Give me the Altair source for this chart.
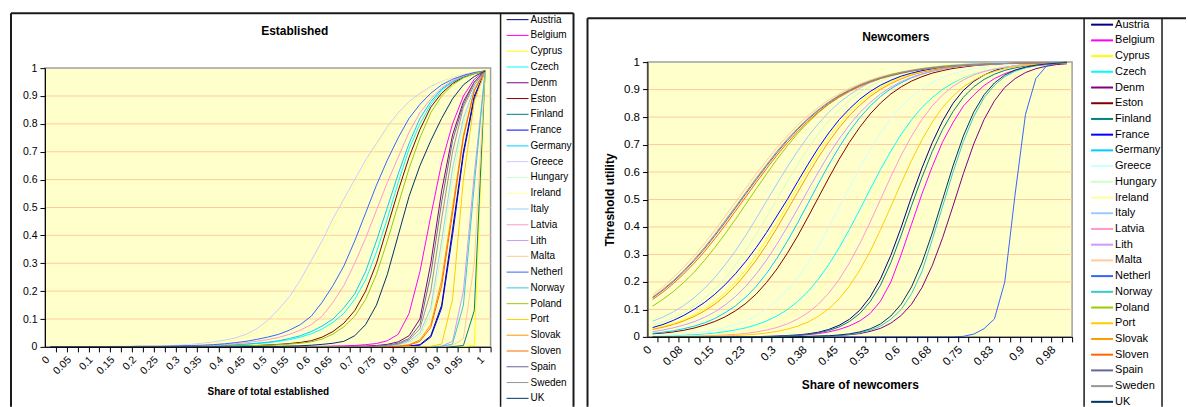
import altair as alt
import pandas as pd

FONT = "Liberation Sans"

COUNTRIES = ["Austria", "Belgium", "Cyprus", "Czech", "Denm", "Eston", "Finland",
             "France", "Germany", "Greece", "Hungary", "Ireland", "Italy", "Latvia",
             "Lith", "Malta", "Netherl", "Norway", "Poland", "Port", "Slovak",
             "Sloven", "Spain", "Sweden", "UK"]

EST_COLORS = ["#000080", "#FF00FF", "#FFFF00", "#00FFFF", "#800080", "#800000", "#008080",
              "#0000FF", "#00CCFF", "#CCCCFF", "#CCFFCC", "#FFFF99", "#99CCFF", "#FF99CC",
              "#CC99FF", "#FFCC99", "#3366FF", "#33CCCC", "#99CC00", "#FFCC00", "#FF9900",
              "#FF6600", "#666699", "#969696", "#003366"]
NEW_COLORS = ["#000080", "#FF00FF", "#FFFF00", "#00FFFF", "#800080", "#800000", "#008080",
              "#0000FF", "#00CCFF", "#CCFFFF", "#CCFFCC", "#FFFF99", "#99CCFF", "#FF99CC",
              "#CC99FF", "#FFCC99", "#3366FF", "#33CCCC", "#99CC00", "#FFCC00", "#FF9900",
              "#FF6600", "#666699", "#969696", "#003366"]

# category positions (0 .. 1 in steps of 0.025)
X_CATS = [0.0, 0.025, 0.05, 0.075, 0.1, 0.125, 0.15, 0.175, 0.2, 0.225,
          0.25, 0.275, 0.3, 0.325, 0.35, 0.375, 0.4, 0.425, 0.45, 0.475,
          0.5, 0.525, 0.55, 0.575, 0.6, 0.625, 0.65, 0.675, 0.7, 0.725,
          0.75, 0.775, 0.8, 0.825, 0.85, 0.875, 0.9, 0.925, 0.95, 0.975, 1.0]
EST_TICK_LABELS = ["0", "0.05", "0.1", "0.15", "0.2", "0.25", "0.3", "0.35", "0.4", "0.45",
                   "0.5", "0.55", "0.6", "0.65", "0.7", "0.75", "0.8", "0.85", "0.9", "0.95", "1"]
NEW_TICK_LABELS = ["0", "0.08", "0.15", "0.23", "0.3", "0.38", "0.45", "0.53", "0.6",
                   "0.68", "0.75", "0.83", "0.9", "0.98"]
Y_TICKS = [0, 0.1, 0.2, 0.3, 0.4, 0.5, 0.6, 0.7, 0.8, 0.9, 1]
GRID_VALUES = [0.1, 0.2, 0.3, 0.4, 0.5, 0.6, 0.7, 0.8, 0.9]

# ---------------- Established (share of total established) ----------------
est_Austria = [0, 0, 0, 0, 0, 0, 0, 0, 0, 0,
               0, 0, 0, 0, 0, 0, 0, 0, 0, 0,
               0, 0, 0, 0, 0, 0, 0, 0, 0, 0,
               0, 0, 0, 0.003, 0.008, 0.04, 0.15, 0.42, 0.7, 0.9,
               0.99]
est_Belgium = [0, 0, 0, 0, 0, 0, 0, 0, 0, 0,
               0, 0, 0, 0, 0, 0, 0, 0, 0, 0,
               0, 0, 0.001, 0.001, 0.002, 0.002, 0.003, 0.004, 0.005, 0.008,
               0.012, 0.022, 0.045, 0.12, 0.27, 0.47, 0.66, 0.8, 0.9, 0.96,
               0.99]
est_Cyprus = [0, 0, 0, 0, 0, 0, 0, 0, 0, 0,
              0, 0, 0, 0, 0, 0, 0, 0, 0, 0,
              0, 0, 0, 0, 0, 0, 0, 0, 0, 0,
              0, 0, 0, 0, 0, 0, 0, 0, 0.001, 0.005,
              0.99]
est_Czech = [0, 0, 0, 0, 0, 0, 0, 0, 0.001, 0.001,
             0.001, 0.001, 0.002, 0.002, 0.003, 0.004, 0.005, 0.007, 0.009, 0.012,
             0.015, 0.02, 0.026, 0.035, 0.047, 0.064, 0.088, 0.12, 0.17, 0.24,
             0.34, 0.46, 0.59, 0.71, 0.8, 0.87, 0.92, 0.95, 0.968, 0.981,
             0.99]
est_Denm = [0, 0, 0, 0, 0, 0, 0, 0, 0, 0,
            0, 0, 0, 0, 0, 0, 0, 0, 0, 0,
            0, 0, 0, 0, 0, 0, 0, 0.001, 0.002, 0.003,
            0.005, 0.009, 0.018, 0.04, 0.1, 0.3, 0.56, 0.76, 0.88, 0.95,
            0.99]
est_Eston = [0, 0, 0, 0, 0, 0, 0, 0, 0, 0.001,
             0.001, 0.001, 0.001, 0.002, 0.002, 0.002, 0.003, 0.003, 0.004, 0.005,
             0.007, 0.009, 0.012, 0.016, 0.022, 0.035, 0.055, 0.085, 0.13, 0.2,
             0.3, 0.43, 0.56, 0.68, 0.78, 0.86, 0.91, 0.945, 0.967, 0.98,
             0.99]
est_Finland = [0, 0, 0, 0, 0, 0, 0, 0, 0, 0,
               0, 0, 0, 0, 0, 0, 0, 0, 0, 0,
               0, 0, 0, 0, 0, 0, 0, 0, 0, 0,
               0, 0, 0, 0, 0, 0, 0, 0.001, 0.005, 0.13,
               0.99]
est_France = [0, 0, 0, 0, 0, 0, 0, 0, 0, 0,
              0, 0, 0, 0, 0, 0, 0, 0, 0, 0,
              0, 0, 0, 0, 0, 0, 0, 0, 0, 0,
              0, 0, 0, 0.002, 0.006, 0.035, 0.14, 0.4, 0.69, 0.89,
              0.99]
est_Germany = [0, 0, 0, 0, 0, 0, 0, 0.001, 0.001, 0.001,
               0.001, 0.002, 0.002, 0.003, 0.004, 0.005, 0.006, 0.008, 0.01, 0.013,
               0.017, 0.022, 0.03, 0.04, 0.055, 0.075, 0.1, 0.14, 0.19, 0.27,
               0.38, 0.5, 0.62, 0.73, 0.82, 0.88, 0.925, 0.952, 0.97, 0.982,
               0.99]
est_Greece = [0, 0, 0, 0.001, 0.001, 0.001, 0.002, 0.002, 0.003, 0.003,
              0.004, 0.005, 0.006, 0.009, 0.013, 0.018, 0.024, 0.032, 0.045, 0.065,
              0.095, 0.135, 0.18, 0.24, 0.31, 0.38, 0.46, 0.53, 0.6, 0.67,
              0.73, 0.79, 0.84, 0.88, 0.91, 0.935, 0.952, 0.966, 0.977, 0.985,
              0.99]
est_Hungary = [0, 0, 0, 0, 0, 0, 0, 0, 0, 0,
               0, 0, 0, 0, 0, 0, 0, 0, 0, 0,
               0, 0, 0, 0, 0, 0, 0, 0, 0, 0,
               0, 0.003, 0.006, 0.015, 0.04, 0.12, 0.34, 0.6, 0.8, 0.92,
               0.99]
est_Ireland = [0, 0, 0, 0, 0.001, 0.001, 0.001, 0.002, 0.002, 0.003,
               0.003, 0.004, 0.005, 0.007, 0.01, 0.014, 0.019, 0.026, 0.036, 0.052,
               0.078, 0.112, 0.155, 0.21, 0.28, 0.35, 0.43, 0.51, 0.58, 0.65,
               0.72, 0.78, 0.83, 0.87, 0.905, 0.93, 0.95, 0.965, 0.976, 0.985,
               0.99]
est_Italy = [0, 0, 0, 0, 0, 0, 0, 0, 0, 0,
             0, 0, 0, 0, 0, 0, 0, 0, 0, 0,
             0, 0, 0, 0, 0, 0, 0, 0, 0, 0,
             0.002, 0.004, 0.008, 0.02, 0.05, 0.14, 0.38, 0.64, 0.82, 0.93,
             0.99]
est_Latvia = [0, 0, 0, 0, 0, 0, 0.001, 0.001, 0.001, 0.002,
              0.002, 0.002, 0.003, 0.004, 0.005, 0.006, 0.008, 0.011, 0.015, 0.02,
              0.026, 0.034, 0.045, 0.06, 0.08, 0.11, 0.16, 0.22, 0.3, 0.39,
              0.49, 0.59, 0.68, 0.77, 0.84, 0.89, 0.93, 0.955, 0.972, 0.983,
              0.99]
est_Lith = [0, 0, 0, 0, 0, 0, 0, 0, 0, 0,
            0, 0, 0, 0, 0, 0, 0, 0, 0, 0,
            0, 0, 0, 0, 0, 0, 0, 0, 0, 0,
            0, 0, 0, 0, 0, 0, 0.003, 0.02, 0.2, 0.62,
            0.99]
est_Malta = [0, 0, 0, 0, 0, 0, 0, 0, 0, 0,
             0, 0, 0, 0, 0, 0, 0, 0, 0, 0,
             0, 0, 0, 0, 0, 0, 0, 0, 0, 0,
             0, 0, 0, 0, 0, 0, 0, 0.005, 0.03, 0.3,
             0.99]
est_Netherl = [0, 0, 0, 0, 0, 0.001, 0.001, 0.001, 0.002, 0.002,
               0.002, 0.003, 0.004, 0.005, 0.006, 0.008, 0.011, 0.015, 0.02, 0.027,
               0.035, 0.045, 0.06, 0.08, 0.11, 0.16, 0.22, 0.29, 0.38, 0.48,
               0.58, 0.67, 0.75, 0.82, 0.87, 0.91, 0.94, 0.96, 0.974, 0.984,
               0.99]
est_Norway = [0, 0, 0, 0, 0, 0, 0, 0, 0, 0,
              0, 0, 0, 0, 0, 0, 0, 0, 0, 0,
              0, 0, 0, 0, 0, 0, 0, 0, 0, 0,
              0, 0, 0, 0, 0, 0, 0.002, 0.01, 0.15, 0.58,
              0.99]
est_Poland = [0, 0, 0, 0, 0, 0, 0, 0, 0, 0,
              0.001, 0.001, 0.001, 0.001, 0.002, 0.002, 0.002, 0.003, 0.004, 0.005,
              0.006, 0.008, 0.01, 0.013, 0.018, 0.028, 0.046, 0.072, 0.11, 0.17,
              0.26, 0.38, 0.51, 0.64, 0.75, 0.84, 0.9, 0.94, 0.965, 0.98,
              0.99]
est_Port = [0, 0, 0, 0, 0, 0, 0, 0, 0, 0,
            0, 0, 0, 0, 0, 0, 0, 0, 0, 0,
            0, 0, 0, 0, 0, 0, 0, 0, 0, 0,
            0, 0, 0, 0, 0, 0.002, 0.01, 0.17, 0.6, 0.88,
            0.99]
est_Slovak = [0, 0, 0, 0, 0, 0, 0, 0, 0, 0,
              0, 0, 0, 0, 0, 0, 0, 0, 0, 0,
              0, 0, 0, 0, 0, 0, 0, 0, 0, 0,
              0, 0, 0.003, 0.008, 0.025, 0.08, 0.24, 0.5, 0.76, 0.92,
              0.99]
est_Sloven = [0, 0, 0, 0, 0, 0, 0, 0, 0, 0,
              0, 0, 0, 0, 0, 0, 0, 0, 0, 0,
              0, 0, 0, 0, 0, 0, 0, 0, 0, 0,
              0, 0, 0.002, 0.006, 0.02, 0.07, 0.22, 0.48, 0.75, 0.92,
              0.99]
est_Spain = [0, 0, 0, 0, 0, 0, 0, 0, 0, 0,
             0, 0, 0, 0, 0, 0, 0, 0, 0, 0,
             0, 0, 0, 0, 0, 0, 0, 0, 0, 0,
             0.003, 0.006, 0.013, 0.03, 0.08, 0.26, 0.52, 0.74, 0.87, 0.95,
             0.99]
est_Sweden = [0, 0, 0, 0, 0, 0, 0, 0, 0, 0,
              0, 0, 0, 0, 0, 0, 0, 0, 0, 0,
              0, 0, 0, 0, 0, 0, 0, 0, 0, 0,
              0, 0.004, 0.01, 0.025, 0.065, 0.2, 0.46, 0.7, 0.86, 0.94,
              0.99]
est_UK = [0, 0, 0, 0, 0, 0, 0, 0, 0, 0,
          0, 0, 0, 0, 0, 0, 0, 0, 0.001, 0.001,
          0.002, 0.002, 0.003, 0.004, 0.006, 0.009, 0.013, 0.02, 0.04, 0.08,
          0.15, 0.26, 0.4, 0.54, 0.65, 0.74, 0.82, 0.89, 0.94, 0.97,
          0.99]

# ---------------- Newcomers (share of newcomers) ----------------
new_Austria = [0, 0, 0, 0, 0, 0, 0, 0, 0, 0.001,
               0.001, 0.002, 0.003, 0.005, 0.007, 0.011, 0.017, 0.027, 0.042, 0.064,
               0.097, 0.145, 0.211, 0.297, 0.399, 0.51, 0.614, 0.707, 0.786, 0.85,
               0.897, 0.93, 0.953, 0.969, 0.98, 0.987, 0.991, 0.994, 0.996, 0.997,
               0.998]
new_Belgium = [0, 0, 0, 0, 0, 0, 0, 0, 0, 0,
               0.001, 0.001, 0.002, 0.003, 0.005, 0.008, 0.012, 0.018, 0.027, 0.04,
               0.058, 0.085, 0.13, 0.2, 0.3, 0.41, 0.52, 0.62, 0.71, 0.78,
               0.84, 0.88, 0.915, 0.94, 0.958, 0.971, 0.98, 0.987, 0.991, 0.994,
               0.996]
new_Cyprus = [0.029, 0.038, 0.049, 0.062, 0.08, 0.101, 0.128, 0.16, 0.199, 0.244,
              0.296, 0.353, 0.415, 0.48, 0.546, 0.61, 0.671, 0.726, 0.775, 0.818,
              0.854, 0.884, 0.908, 0.928, 0.944, 0.956, 0.966, 0.974, 0.979, 0.984,
              0.988, 0.991, 0.993, 0.994, 0.995, 0.996, 0.997, 0.998, 0.998, 0.999,
              0.999]
new_Czech = [0.002, 0.003, 0.004, 0.006, 0.008, 0.01, 0.014, 0.019, 0.025, 0.033,
             0.044, 0.058, 0.076, 0.099, 0.129, 0.165, 0.21, 0.263, 0.324, 0.391,
             0.463, 0.537, 0.609, 0.676, 0.737, 0.79, 0.835, 0.871, 0.901, 0.924,
             0.942, 0.956, 0.967, 0.975, 0.981, 0.986, 0.99, 0.992, 0.994, 0.996,
             0.997]
new_Denm = [0, 0, 0, 0, 0, 0, 0, 0, 0, 0,
            0, 0, 0, 0, 0.001, 0.001, 0.002, 0.003, 0.005, 0.008,
            0.012, 0.02, 0.031, 0.05, 0.078, 0.119, 0.179, 0.26, 0.361, 0.476,
            0.594, 0.702, 0.791, 0.859, 0.908, 0.94, 0.962, 0.976, 0.985, 0.991,
            0.994]
new_Eston = [0.011, 0.014, 0.018, 0.024, 0.032, 0.043, 0.056, 0.073, 0.095, 0.122,
             0.156, 0.198, 0.247, 0.304, 0.367, 0.436, 0.507, 0.578, 0.646, 0.708,
             0.763, 0.811, 0.851, 0.884, 0.91, 0.931, 0.947, 0.96, 0.969, 0.977,
             0.982, 0.987, 0.99, 0.992, 0.994, 0.995, 0.996, 0.997, 0.998, 0.998,
             0.999]
new_Finland = [0, 0, 0, 0, 0, 0, 0, 0, 0, 0,
               0.001, 0.001, 0.002, 0.004, 0.006, 0.009, 0.015, 0.023, 0.036, 0.056,
               0.085, 0.128, 0.188, 0.27, 0.37, 0.478, 0.58, 0.675, 0.755, 0.82,
               0.872, 0.91, 0.937, 0.956, 0.97, 0.979, 0.986, 0.99, 0.993, 0.995,
               0.997]
new_France = [0.034, 0.045, 0.06, 0.078, 0.1, 0.125, 0.155, 0.19, 0.23, 0.275,
              0.325, 0.38, 0.44, 0.5, 0.565, 0.628, 0.688, 0.742, 0.79, 0.83,
              0.865, 0.893, 0.916, 0.934, 0.949, 0.96, 0.969, 0.976, 0.982, 0.986,
              0.99, 0.992, 0.994, 0.995, 0.996, 0.997, 0.998, 0.998, 0.999, 0.999,
              0.999]
new_Germany = [0.013, 0.017, 0.022, 0.03, 0.039, 0.051, 0.067, 0.088, 0.113, 0.145,
               0.184, 0.231, 0.286, 0.348, 0.415, 0.486, 0.557, 0.626, 0.69, 0.748,
               0.798, 0.84, 0.875, 0.903, 0.925, 0.943, 0.956, 0.967, 0.975, 0.981,
               0.986, 0.989, 0.992, 0.994, 0.995, 0.996, 0.997, 0.998, 0.998, 0.999,
               0.999]
new_Greece = [0.005, 0.006, 0.008, 0.011, 0.014, 0.019, 0.025, 0.034, 0.045, 0.059,
              0.078, 0.102, 0.132, 0.17, 0.215, 0.269, 0.33, 0.398, 0.471, 0.544,
              0.616, 0.682, 0.742, 0.795, 0.838, 0.874, 0.903, 0.926, 0.944, 0.958,
              0.968, 0.976, 0.982, 0.987, 0.99, 0.993, 0.994, 0.996, 0.997, 0.998,
              0.998]
new_Hungary = [0.042, 0.054, 0.069, 0.088, 0.111, 0.14, 0.174, 0.214, 0.261, 0.315,
               0.373, 0.435, 0.5, 0.565, 0.627, 0.685, 0.739, 0.786, 0.826, 0.86,
               0.889, 0.912, 0.931, 0.946, 0.958, 0.967, 0.974, 0.98, 0.985, 0.988,
               0.991, 0.993, 0.994, 0.996, 0.997, 0.997, 0.998, 0.998, 0.999, 0.999,
               0.999]
new_Ireland = [0.001, 0.002, 0.003, 0.003, 0.005, 0.006, 0.009, 0.012, 0.016, 0.022,
               0.029, 0.04, 0.053, 0.072, 0.095, 0.126, 0.165, 0.212, 0.269, 0.335,
               0.407, 0.484, 0.562, 0.637, 0.706, 0.766, 0.818, 0.86, 0.893, 0.92,
               0.94, 0.955, 0.967, 0.976, 0.982, 0.987, 0.99, 0.993, 0.995, 0.996,
               0.997]
new_Italy = [0.057, 0.072, 0.091, 0.114, 0.142, 0.176, 0.216, 0.262, 0.313, 0.37,
             0.431, 0.494, 0.557, 0.618, 0.676, 0.729, 0.776, 0.817, 0.852, 0.881,
             0.905, 0.925, 0.94, 0.953, 0.963, 0.971, 0.977, 0.982, 0.986, 0.989,
             0.992, 0.994, 0.995, 0.996, 0.997, 0.997, 0.998, 0.998, 0.999, 0.999,
             0.999]
new_Latvia = [0.001, 0.001, 0.001, 0.002, 0.003, 0.004, 0.005, 0.007, 0.009, 0.013,
              0.018, 0.025, 0.034, 0.047, 0.065, 0.088, 0.119, 0.159, 0.209, 0.269,
              0.339, 0.417, 0.5, 0.583, 0.661, 0.731, 0.791, 0.841, 0.881, 0.912,
              0.935, 0.953, 0.966, 0.975, 0.982, 0.987, 0.991, 0.993, 0.995, 0.996,
              0.997]
new_Lith = [0.019, 0.025, 0.033, 0.043, 0.055, 0.071, 0.091, 0.116, 0.147, 0.184,
            0.229, 0.28, 0.337, 0.4, 0.466, 0.534, 0.6, 0.663, 0.72, 0.771,
            0.816, 0.853, 0.884, 0.909, 0.929, 0.945, 0.957, 0.967, 0.975, 0.981,
            0.985, 0.989, 0.991, 0.993, 0.995, 0.996, 0.997, 0.997, 0.998, 0.998,
            0.999]
new_Malta = [0.153, 0.182, 0.216, 0.253, 0.294, 0.339, 0.388, 0.438, 0.49, 0.542,
             0.593, 0.642, 0.688, 0.731, 0.77, 0.805, 0.835, 0.862, 0.885, 0.905,
             0.921, 0.935, 0.947, 0.956, 0.964, 0.971, 0.976, 0.98, 0.984, 0.987,
             0.989, 0.991, 0.993, 0.994, 0.995, 0.996, 0.997, 0.998, 0.998, 0.999,
             0.999]
new_Netherl = [0, 0, 0, 0, 0, 0, 0, 0, 0, 0,
               0, 0, 0, 0, 0, 0, 0, 0, 0, 0,
               0, 0, 0, 0, 0, 0, 0, 0, 0, 0,
               0.002, 0.01, 0.03, 0.065, 0.2, 0.52, 0.81, 0.94, 0.985, 0.998,
               1.0]
new_Norway = [0, 0, 0, 0, 0, 0, 0, 0, 0, 0,
              0, 0, 0, 0, 0, 0.001, 0.002, 0.003, 0.006, 0.009,
              0.015, 0.024, 0.039, 0.064, 0.1, 0.157, 0.237, 0.354, 0.475, 0.599,
              0.711, 0.802, 0.87, 0.916, 0.947, 0.967, 0.979, 0.987, 0.992, 0.995,
              0.997]
new_Poland = [0.112, 0.137, 0.165, 0.198, 0.235, 0.278, 0.325, 0.375, 0.428, 0.483,
              0.539, 0.593, 0.646, 0.695, 0.74, 0.78, 0.816, 0.847, 0.874, 0.896,
              0.915, 0.931, 0.944, 0.955, 0.963, 0.97, 0.976, 0.981, 0.985, 0.988,
              0.99, 0.992, 0.993, 0.994, 0.995, 0.996, 0.997, 0.997, 0.998, 0.998,
              0.999]
new_Port = [0, 0, 0.001, 0.001, 0.001, 0.002, 0.003, 0.004, 0.005, 0.007,
            0.01, 0.014, 0.02, 0.028, 0.039, 0.054, 0.075, 0.102, 0.138, 0.185,
            0.243, 0.311, 0.39, 0.474, 0.56, 0.642, 0.717, 0.782, 0.835, 0.877,
            0.91, 0.934, 0.953, 0.966, 0.976, 0.983, 0.988, 0.991, 0.994, 0.995,
            0.997]
new_Slovak = [0.027, 0.035, 0.045, 0.058, 0.074, 0.094, 0.119, 0.15, 0.186, 0.23,
              0.279, 0.335, 0.396, 0.461, 0.526, 0.591, 0.653, 0.71, 0.761, 0.806,
              0.843, 0.875, 0.901, 0.922, 0.939, 0.953, 0.963, 0.971, 0.978, 0.983,
              0.987, 0.99, 0.992, 0.994, 0.995, 0.996, 0.997, 0.997, 0.998, 0.998,
              0.999]
new_Sloven = [0.136, 0.163, 0.194, 0.229, 0.268, 0.31, 0.357, 0.406, 0.458, 0.51,
              0.562, 0.612, 0.661, 0.706, 0.747, 0.785, 0.818, 0.847, 0.872, 0.893,
              0.911, 0.927, 0.94, 0.95, 0.959, 0.967, 0.973, 0.978, 0.982, 0.985,
              0.988, 0.99, 0.992, 0.993, 0.995, 0.996, 0.996, 0.997, 0.998, 0.998,
              0.999]
new_Spain = [0.142, 0.17, 0.201, 0.237, 0.277, 0.32, 0.368, 0.417, 0.469, 0.521,
             0.572, 0.622, 0.67, 0.715, 0.755, 0.792, 0.824, 0.852, 0.877, 0.897,
             0.915, 0.93, 0.942, 0.952, 0.961, 0.968, 0.974, 0.979, 0.983, 0.986,
             0.988, 0.99, 0.992, 0.994, 0.995, 0.996, 0.997, 0.997, 0.998, 0.998,
             0.999]
new_Sweden = [0.145, 0.173, 0.205, 0.241, 0.281, 0.325, 0.373, 0.423, 0.474, 0.526,
              0.578, 0.627, 0.675, 0.719, 0.759, 0.795, 0.827, 0.855, 0.879, 0.899,
              0.917, 0.931, 0.943, 0.953, 0.962, 0.969, 0.975, 0.979, 0.983, 0.986,
              0.989, 0.991, 0.993, 0.994, 0.995, 0.996, 0.997, 0.997, 0.998, 0.998,
              0.999]
new_UK = [0, 0, 0, 0, 0, 0, 0, 0, 0, 0,
          0, 0, 0, 0, 0.001, 0.002, 0.003, 0.004, 0.007, 0.011,
          0.018, 0.029, 0.047, 0.076, 0.119, 0.182, 0.269, 0.378, 0.5, 0.622,
          0.731, 0.818, 0.881, 0.924, 0.953, 0.971, 0.982, 0.989, 0.993, 0.996,
          0.998]

EST_SERIES = [est_Austria, est_Belgium, est_Cyprus, est_Czech, est_Denm, est_Eston,
              est_Finland, est_France, est_Germany, est_Greece, est_Hungary, est_Ireland,
              est_Italy, est_Latvia, est_Lith, est_Malta, est_Netherl, est_Norway,
              est_Poland, est_Port, est_Slovak, est_Sloven, est_Spain, est_Sweden, est_UK]
NEW_SERIES = [new_Austria, new_Belgium, new_Cyprus, new_Czech, new_Denm, new_Eston,
              new_Finland, new_France, new_Germany, new_Greece, new_Hungary, new_Ireland,
              new_Italy, new_Latvia, new_Lith, new_Malta, new_Netherl, new_Norway,
              new_Poland, new_Port, new_Slovak, new_Sloven, new_Spain, new_Sweden, new_UK]


def build_df(series):
    rows = []
    for k, (name, vals) in enumerate(zip(COUNTRIES, series)):
        assert len(vals) == len(X_CATS), name
        for x, v in zip(X_CATS, vals):
            rows.append({"country": name, "x": x, "v": v, "k": k})
    return pd.DataFrame(rows)


LEGEND_DF = pd.DataFrame({"country": COUNTRIES, "k": list(range(len(COUNTRIES)))})
GRID_DF = pd.DataFrame({"g": GRID_VALUES})


def one():
    return pd.DataFrame({"a": [0]})


def hline(x1, x2, y, color, sw):
    return alt.Chart(one()).mark_rule(color=color, strokeWidth=sw).encode(
        x=alt.value(x1), x2=alt.value(x2), y=alt.value(y))


def vline(x, y1, y2, color, sw):
    return alt.Chart(one()).mark_rule(color=color, strokeWidth=sw).encode(
        x=alt.value(x), y=alt.value(y1), y2=alt.value(y2))


def panel(series, colors, tick_labels, label_step, width, height, y_top, y_bottom,
          title, title_xy, xtitle, xtitle_y, ytitle, frame_lines, legend_x,
          legend_y, legend_sw, tick_fs, title_fs, legend_fs):
    n = len(X_CATS)
    cat_w = width / n
    half = 0.5 / (n - 1)
    xscale = alt.Scale(domain=[X_CATS[0] - half, X_CATS[-1] + half], nice=False, zero=False)
    yscale = alt.Scale(domain=[0, 1], range=[y_bottom, y_top], nice=False, zero=False)
    labs = [""] * n
    for i, t in enumerate(tick_labels):
        labs[i * label_step] = t
    label_expr = "[" + ",".join("'%s'" % t for t in labs) + "][round(datum.value*%d)]" % (n - 1)
    color = alt.Color("country:N", scale=alt.Scale(domain=COUNTRIES, range=colors), legend=None)

    bg = alt.Chart(one()).mark_rect(fill="#FFFFCC", stroke="#A0A0A0", strokeWidth=1.5).encode(
        x=alt.value(0), x2=alt.value(width), y=alt.value(y_top), y2=alt.value(y_bottom))
    grid = alt.Chart(GRID_DF).mark_rule(color="#FFCC99", strokeWidth=1).encode(
        y=alt.Y("g:Q", scale=yscale, axis=None))

    x_axis = alt.Axis(values=X_CATS, labelExpr=label_expr, labelAngle=-45, labelAlign="right",
                      labelBaseline="middle", tickOffset=cat_w / 2, labelOffset=-cat_w / 2 - 3,
                      tickSize=5, labelPadding=6, labelOverlap=False, labelFlush=False,
                      labelBound=False, grid=False, domainColor="black", tickColor="black",
                      labelColor="black", labelFont=FONT, labelFontSize=tick_fs,
                      title=xtitle, titleFont=FONT, titleFontSize=title_fs, titleFontWeight="bold",
                      titleColor="black", titleX=width / 2, titleY=xtitle_y,
                      titleAlign="center", titleBaseline="alphabetic", zindex=1)
    y_kwargs = dict(values=Y_TICKS, format="~g", grid=False, tickSize=5, labelPadding=3,
                    domainColor="black", tickColor="black", labelColor="black",
                    labelFont=FONT, labelFontSize=tick_fs, zindex=1)
    if ytitle:
        y_axis = alt.Axis(title=ytitle, titleFont=FONT, titleFontSize=title_fs,
                          titleFontWeight="bold", titleColor="black", titleAngle=-90,
                          titleX=-33.5, titleY=(y_top + y_bottom) / 2, titleAlign="center",
                          titleBaseline="alphabetic", **y_kwargs)
    else:
        y_axis = alt.Axis(title=None, **y_kwargs)

    lines = alt.Chart(build_df(series)).mark_line(strokeWidth=1).encode(
        x=alt.X("x:Q", scale=xscale, axis=x_axis),
        y=alt.Y("v:Q", scale=yscale, axis=y_axis),
        color=color,
        detail="k:N",
    )

    lscale = alt.Scale(domain=[0, len(COUNTRIES) - 1], range=legend_y)
    lrule = alt.Chart(LEGEND_DF).mark_rule(strokeWidth=legend_sw).encode(
        x=alt.value(legend_x[0]), x2=alt.value(legend_x[1]),
        y=alt.Y("k:Q", scale=lscale, axis=None), color=color)
    ltext = alt.Chart(LEGEND_DF).mark_text(align="left", baseline="middle", font=FONT,
                                           fontSize=legend_fs, color="black").encode(
        x=alt.value(legend_x[2]), y=alt.Y("k:Q", scale=lscale, axis=None), text="country:N")
    ttl = alt.Chart(one()).mark_text(text=title, font=FONT, fontSize=12, fontWeight="bold",
                                     align="center", baseline="alphabetic", color="black").encode(
        x=alt.value(title_xy[0]), y=alt.value(title_xy[1]))

    return alt.layer(*frame_lines, bg, grid, lines, lrule, ltext, ttl).resolve_scale(
        y="independent").properties(width=width, height=height)


FRAME = "#1a1a1a"
# left chart: outer frame + legend box (pixel offsets from its plot-area origin)
left_frame = [hline(-34, 529, -49, FRAME, 2), vline(-34, -49, 345, FRAME, 2),
              vline(529, -49, 345, FRAME, 2), vline(456, -49, 345, FRAME, 1.5)]
# right chart: frame runs past the right edge of the picture
right_frame = [hline(-60, 539, -44, FRAME, 2), vline(-60, -44, 345, FRAME, 2),
               vline(437, -44, 345, FRAME, 1.5), vline(515, -44, 345, FRAME, 1.5)]

left = panel(EST_SERIES, EST_COLORS, EST_TICK_LABELS, 2, 446, 285, 6, 285,
             "Established", (250, -27.5), "Share of total established", 48, None,
             left_frame, (462, 484, 486), [-42.5, 336.5], 1, 10.5, 10, 10)
right = panel(NEW_SERIES, NEW_COLORS, NEW_TICK_LABELS, 3, 425, 275, 0, 275,
              "Newcomers", (248.5, -21.5), "Share of newcomers", 52, "Threshold utility",
              right_frame, (444, 466, 468), [-37.5, 340], 2, 11.5, 12, 11)

# "pad" autosizing: the top-left bound (left frame incl. stroke, at -35/-50 px from
# the first plot area) sits at the padding, putting that plot area at (44, 61).
chart = alt.hconcat(left, right, spacing=157, bounds="flush").resolve_scale(
    color="independent").properties(
    autosize=alt.AutoSizeParams(type="pad"),
    padding={"left": 9, "top": 11, "right": 0, "bottom": 0},
    background="white",
).configure_view(stroke="transparent")

chart.save("out.html", embed_options={"renderer": "svg", "actions": False})
